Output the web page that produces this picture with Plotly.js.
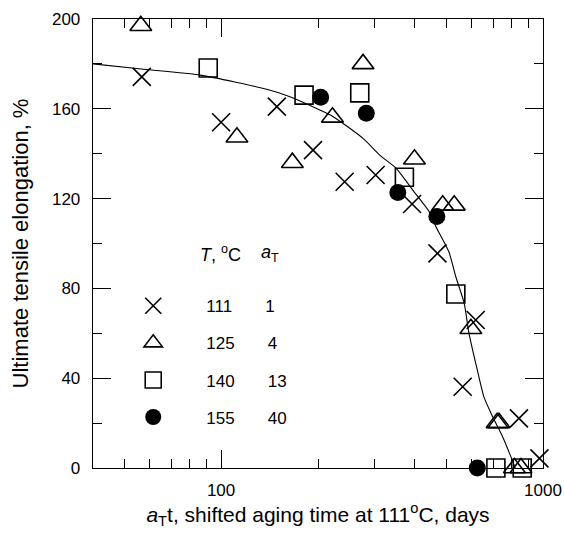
<!DOCTYPE html>
<html>
<head>
<meta charset="utf-8">
<script src="https://cdn.plot.ly/plotly-3.0.1.min.js"></script>
<style>html,body{margin:0;padding:0;background:#fff;}#chart{width:564px;height:535px;}</style>
</head>
<body>
<div id="chart"></div>
<script>
// Fitted curve
const curveX = [40, 56.5, 86.3, 138.6, 163.6, 202.5, 223, 276, 311, 350, 394, 443, 465, 510, 536, 569, 589, 625, 655, 697, 749, 802, 820];
const curveY = [180, 177.7, 175, 168.7, 165.4, 159.5, 156.5, 146.8, 139.4, 133.5, 123.8, 114.2, 107.5, 96.3, 85.2, 73.4, 60, 43.7, 31.8, 22.9, 13.9, 3.6, 0];

// 111 C, aT = 1
const x111 = [56.7, 100, 149, 193, 242, 302, 392, 470, 618, 563, 842, 975];
const y111 = [174.2, 154, 161, 141.6, 127.5, 130.5, 117.6, 95.6, 65.9, 36.2, 22.1, 4.3];
// 125 C, aT = 4
const x125 = [56.3, 112, 166.5, 221.8, 276, 398.8, 488, 530, 597, 720, 730, 815, 854];
const y125 = [197, 147.3, 136, 156.2, 180, 137.5, 117, 117, 62, 20.1, 20.1, 0, 0];
// 140 C, aT = 13
const x140 = [91.2, 181, 269.6, 371, 536, 714, 862];
const y140 = [178.2, 166.1, 167.1, 129.5, 77.5, 0, 0];
// 155 C, aT = 40
const x155 = [203.8, 282.5, 354, 468, 625];
const y155 = [165.1, 158, 122.7, 112, 0];

const temps = ['111', '125', '140', '155'];
const shiftFactors = ['1', '4', '13', '40'];

const FONT = 'Liberation Sans, Arial, Helvetica, sans-serif';
const NB = n => '&nbsp;'.repeat(n);
const legName = i => NB(7) + temps[i] + NB(7) + shiftFactors[i];

const mline = {color: '#000', width: 1.6};
const traces = [
  {x: curveX, y: curveY, type: 'scatter', mode: 'lines', line: {color: '#000', width: 1.1, shape: 'spline', smoothing: 0.6}, showlegend: false, hoverinfo: 'skip'},
  {x: x111, y: y111, type: 'scatter', mode: 'markers', name: legName(0), legendgroup: 'a',
   marker: {symbol: 'x-thin-open', size: 18, color: '#000', line: mline}, cliponaxis: false},
  {x: x125, y: y125, type: 'scatter', mode: 'markers', name: legName(1), legendgroup: 'b',
   marker: {symbol: 'triangle-up-open', size: 19, color: '#000', line: mline}, cliponaxis: false},
  {x: x140, y: y140, type: 'scatter', mode: 'markers', name: legName(2), legendgroup: 'c',
   marker: {symbol: 'square-open', size: 18, color: '#000', line: mline}, cliponaxis: false},
  {x: x155, y: y155, type: 'scatter', mode: 'markers', name: legName(3), legendgroup: 'd',
   marker: {symbol: 'circle', size: 17, color: '#000', line: {color: '#000', width: 0}}, cliponaxis: false}
];

const layout = {
  width: 564, height: 535,
  margin: {l: 93, r: 21, t: 19, b: 67},
  paper_bgcolor: '#fff', plot_bgcolor: '#fff',
  font: {family: FONT, size: 17, color: '#000'},
  showlegend: true,
  legend: {x: 0.0894, y: 0.4005, xanchor: 'left', yanchor: 'top', bgcolor: 'rgba(0,0,0,0)',
           font: {family: FONT, size: 17, color: '#000'}, tracegroupgap: 12, traceorder: 'grouped'},
  xaxis: {
    type: 'log', range: [Math.log10(40), 3],
    tickmode: 'array', tickvals: [100, 1000], ticktext: ['100', '1000'],
    ticks: 'inside', ticklen: 18, tickwidth: 1, tickcolor: '#000',
    minor: {tickmode: 'array', tickvals: [50, 60, 70, 80, 90, 200, 300, 400, 500, 600, 700, 800, 900], ticks: 'inside', ticklen: 9, tickwidth: 1, tickcolor: '#000'},
    showline: true, linecolor: '#000', linewidth: 1.3, mirror: 'ticks',
    showgrid: false, zeroline: false, ticklabelstandoff: 6,
    tickfont: {family: FONT, size: 17, color: '#000'},
    title: {text: '<i>a</i><sub>T</sub>t, shifted aging time at 111<sup>o</sup>C, days', font: {family: FONT, size: 21, color: '#000'}, standoff: 5}
  },
  yaxis: {
    range: [0, 200], tickmode: 'linear', tick0: 0, dtick: 40,
    ticks: 'inside', ticklen: 18, tickwidth: 1, tickcolor: '#000',
    minor: {dtick: 20, ticks: 'inside', ticklen: 9, tickwidth: 1, tickcolor: '#000'},
    showline: true, linecolor: '#000', linewidth: 1.3, mirror: 'ticks',
    showgrid: false, zeroline: false, ticklabelstandoff: 8,
    tickfont: {family: FONT, size: 17, color: '#000'},
    title: {text: 'Ultimate tensile elongation, %', font: {family: FONT, size: 22, color: '#000'}, standoff: 17}
  },
  annotations: [
    {xref: 'paper', yref: 'paper', x: (198 - 93) / 450, y: (468 - 253) / 449, xanchor: 'left', yanchor: 'middle', showarrow: false,
     text: '<i>T</i>, <sup>o</sup>C', font: {family: FONT, size: 18, color: '#000'}},
    {xref: 'paper', yref: 'paper', x: (259 - 93) / 450, y: (468 - 253) / 449, xanchor: 'left', yanchor: 'middle', showarrow: false,
     text: '<i>a</i><sub>T</sub>', font: {family: FONT, size: 18, color: '#000'}}
  ]
};

Plotly.newPlot('chart', traces, layout, {displayModeBar: false, staticPlot: true});
</script>
</body>
</html>
